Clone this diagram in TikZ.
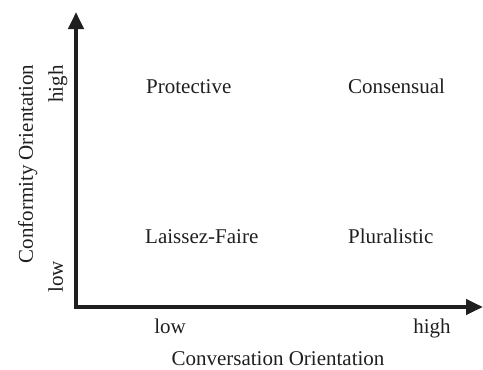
\documentclass[tikz,border=0pt]{standalone}
\usepackage{fontspec}
\setmainfont{Liberation Serif}
\usetikzlibrary{arrows.meta}
\definecolor{ink}{gray}{0.12}
\begin{document}
\begin{tikzpicture}[x=1pt,y=-1pt,
  lbl/.style={font=\fontsize{21}{24}\selectfont, text=ink, inner sep=0pt},
  axis/.style={line width=4pt, draw=ink, -{Triangle[length=17pt,width=15pt]}}]
\useasboundingbox (0,0) rectangle (483,370);
\coordinate (o) at (76,307);
\coordinate (ytop) at (76,12);
\coordinate (xend) at (483,307);
\draw[axis, line cap=rect] (o) -- (ytop);
\draw[axis] (o) -- (xend);
\node[lbl, anchor=base west] (prot) at (146,93) {Protective};
\node[lbl, anchor=base west] (cons) at (348,93) {Consensual};
\node[lbl, anchor=base west] (lais) at (145,243) {Laissez-Faire};
\node[lbl, anchor=base west] (plur) at (348,243) {Pluralistic};
\node[lbl, anchor=base] (xlow) at (170,333) {low};
\node[lbl, anchor=base] (xhigh) at (432,333) {high};
\node[lbl, anchor=base] (xtitle) at (278,365) {Conversation Orientation};
\node[lbl, anchor=base, rotate=90] (ytitle) at (33,164) {Conformity Orientation};
\node[lbl, anchor=base, rotate=90] (yhigh) at (63,84) {high};
\node[lbl, anchor=base, rotate=90] (ylow) at (63,277) {low};
\end{tikzpicture}
\end{document}
